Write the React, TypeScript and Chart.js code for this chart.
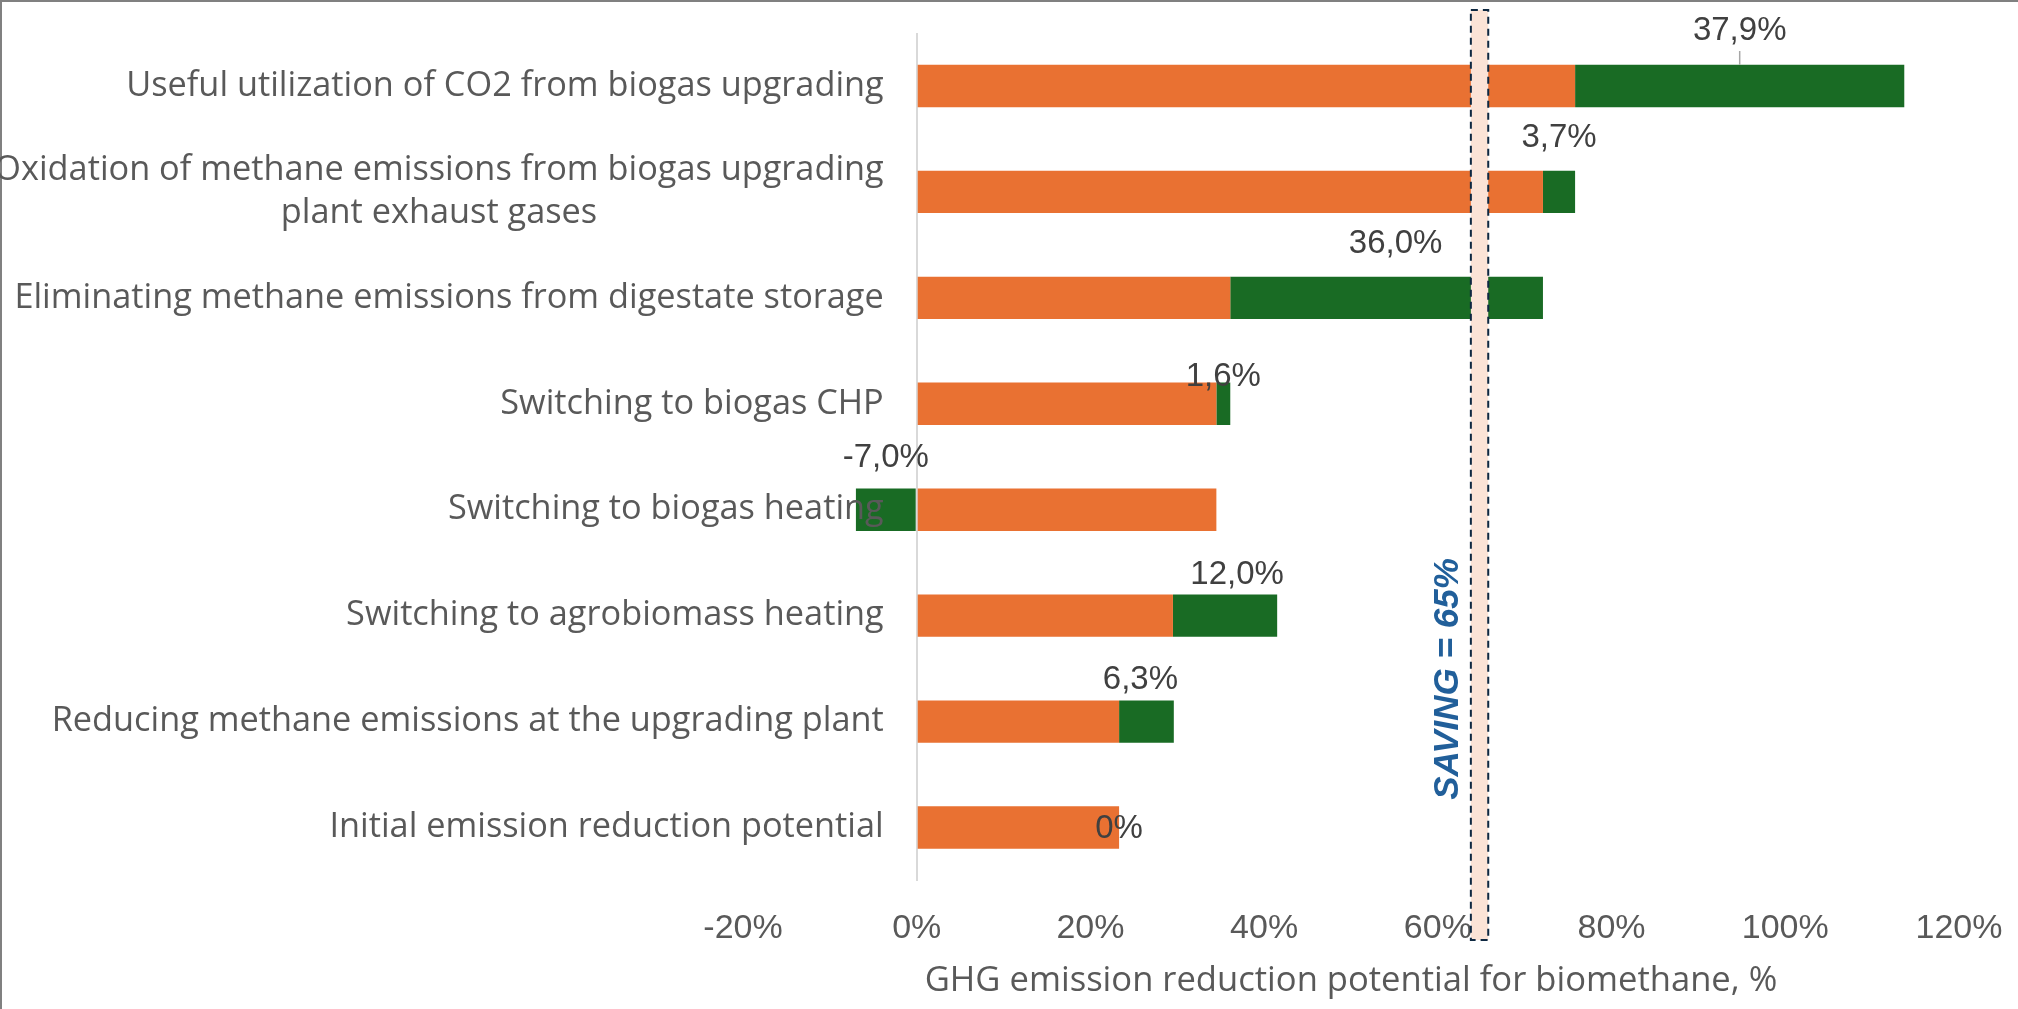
import React, { useEffect, useRef } from "react";
import { Chart, registerables } from "chart.js";

Chart.register(...registerables);

// ---- data ----
const categories: (string | string[])[] = [
  "Useful utilization of CO2 from biogas upgrading",
  ["Oxidation of methane emissions from biogas upgrading", "plant exhaust gases"],
  "Eliminating methane emissions from digestate storage",
  "Switching to biogas CHP",
  "Switching to biogas heating",
  "Switching to agrobiomass heating",
  "Reducing methane emissions at the upgrading plant",
  "Initial emission reduction potential",
];
const baseValues = [75.8, 72.1, 36.1, 34.5, 34.5, 29.5, 23.3, 23.3];
const changeValues = [37.9, 3.7, 36.0, 1.6, -7.0, 12.0, 6.3, 0];
const xTickValues = [-20, 0, 20, 40, 60, 80, 100, 120];
const savingLevel = 65;
const savingLabel = "SAVING = 65%";
const xTitle = "GHG emission reduction potential for biomethane, %";

// ---- style ----
const ORANGE = "#E97132";
const GREEN = "#196B24";
const TEXT = "#595959";
const LABEL = "#404040";
const labelDy = [-55, -54, -54, -27, -52, -41, -42, 1];
const labelDx = [0, 0, 9, 0, 0, 12, -6, 0];
const leader = [true, false, false, false, false, false, false, false];
const NUM_FONT = '"Liberation Sans", Arial, sans-serif';
const TXT_FONT = '"Open Sans", "Liberation Sans", sans-serif';

const fmt = (v: number) => (v === 0 ? "0%" : v.toFixed(1).replace(".", ",") + "%");

const decor = {
  id: "decor",
  beforeDraw(chart: any) {
    const { ctx, width, height } = chart;
    ctx.save();
    ctx.fillStyle = "#ffffff";
    ctx.fillRect(0, 0, width, height);
    ctx.fillStyle = "#808080";
    ctx.fillRect(0, 0, width, 2);
    ctx.fillRect(0, 0, 2, height);
    ctx.restore();
  },
  afterDatasetsDraw(chart: any) {
    const { ctx } = chart;
    const xs = chart.scales.x;
    const ys = chart.scales.y;
    ctx.save();

    // saving band
    const bx1 = xs.getPixelForValue(savingLevel - 1.2);
    const bx2 = xs.getPixelForValue(savingLevel + 0.8);
    const bTop = 10;
    const bBot = 940;
    ctx.fillStyle = "#FBE3D6";
    ctx.fillRect(bx1, bTop, bx2 - bx1, bBot - bTop);
    ctx.setLineDash([7, 5]);
    ctx.strokeStyle = "#0E2841";
    ctx.lineWidth = 2;
    ctx.strokeRect(bx1, bTop, bx2 - bx1, bBot - bTop);
    ctx.setLineDash([]);

    // saving text
    ctx.save();
    ctx.translate(bx1 - 23, 679);
    ctx.rotate(-Math.PI / 2);
    ctx.font = 'italic bold 35px "Liberation Sans", Arial, sans-serif';
    ctx.fillStyle = "#215F9A";
    ctx.textAlign = "center";
    ctx.textBaseline = "middle";
    ctx.fillText(savingLabel, 0, 0);
    ctx.restore();

    // category labels
    const x0 = xs.getPixelForValue(0);
    ctx.font = `34.3px ${TXT_FONT}`;
    ctx.fillStyle = TEXT;
    ctx.textBaseline = "middle";
    ctx.textAlign = "center";
    const lh = 42.5;
    categories.forEach((c, i) => {
      const lines = Array.isArray(c) ? c : [c];
      const w = Math.max(...lines.map((l) => ctx.measureText(l).width));
      const cx = x0 - 33 - w / 2;
      const cy = ys.getPixelForValue(i);
      lines.forEach((l, k) => {
        ctx.fillText(l, cx, cy + (k - (lines.length - 1) / 2) * lh);
      });
    });

    // data labels
    const meta = chart.getDatasetMeta(1);
    ctx.font = `33px ${NUM_FONT}`;
    ctx.fillStyle = LABEL;
    meta.data.forEach((el: any, i: number) => {
      const cx = (el.x + el.base) / 2 + labelDx[i];
      const cy = el.y + labelDy[i];
      ctx.fillText(fmt(changeValues[i]), cx, cy);
      if (leader[i]) {
        ctx.strokeStyle = "#A6A6A6";
        ctx.lineWidth = 1.5;
        ctx.beginPath();
        ctx.moveTo((el.x + el.base) / 2, cy + 20);
        ctx.lineTo((el.x + el.base) / 2, el.y - el.height / 2);
        ctx.stroke();
      }
    });
    ctx.restore();
  },
};

export default function App() {
  const ref = useRef<HTMLCanvasElement>(null);
  useEffect(() => {
    document.body.style.margin = "0";
    const chart = new Chart(ref.current!, {
      type: "bar",
      data: {
        labels: categories as any,
        datasets: [
          { label: "Base", data: baseValues, backgroundColor: ORANGE, borderWidth: 0 },
          { label: "Change", data: changeValues, backgroundColor: GREEN, borderWidth: 0 },
        ],
      },
      options: {
        indexAxis: "y",
        animation: false,
        responsive: false,
        devicePixelRatio: 1,
        layout: { padding: { left: 743, right: 59, top: 33, bottom: 0 } },
        datasets: { bar: { categoryPercentage: 1, barPercentage: 0.4 } },
        plugins: { legend: { display: false }, tooltip: { enabled: false } },
        scales: {
          y: { stacked: true, display: false },
          x: {
            stacked: true,
            min: -20,
            max: 120,
            afterBuildTicks: (s: any) => {
              s.ticks = xTickValues.map((v) => ({ value: v }));
            },
            afterFit: (s: any) => {
              s.height = 128.5;
            },
            border: { display: false },
            grid: {
              drawTicks: true,
              tickLength: 28,
              tickColor: "rgba(0,0,0,0)",
              lineWidth: 2,
              color: (c: any) => (c.tick && c.tick.value === 0 ? "#D9D9D9" : "rgba(0,0,0,0)"),
            },
            ticks: {
              autoSkip: false,
              maxRotation: 0,
              padding: 0,
              color: TEXT,
              font: { family: NUM_FONT, size: 34 },
              callback: (v: any) => v + "%",
            },
            title: {
              display: true,
              text: xTitle,
              color: TEXT,
              font: { family: TXT_FONT, size: 34.6 },
              padding: { top: 0, bottom: 7 },
            },
          },
        },
      },
      plugins: [decor],
    } as any);
    return () => chart.destroy();
  }, []);
  return (
    <div style={{ width: 2018, height: 1009 }}>
      <canvas ref={ref} width={2018} height={1009} style={{ display: "block" }} />
    </div>
  );
}
